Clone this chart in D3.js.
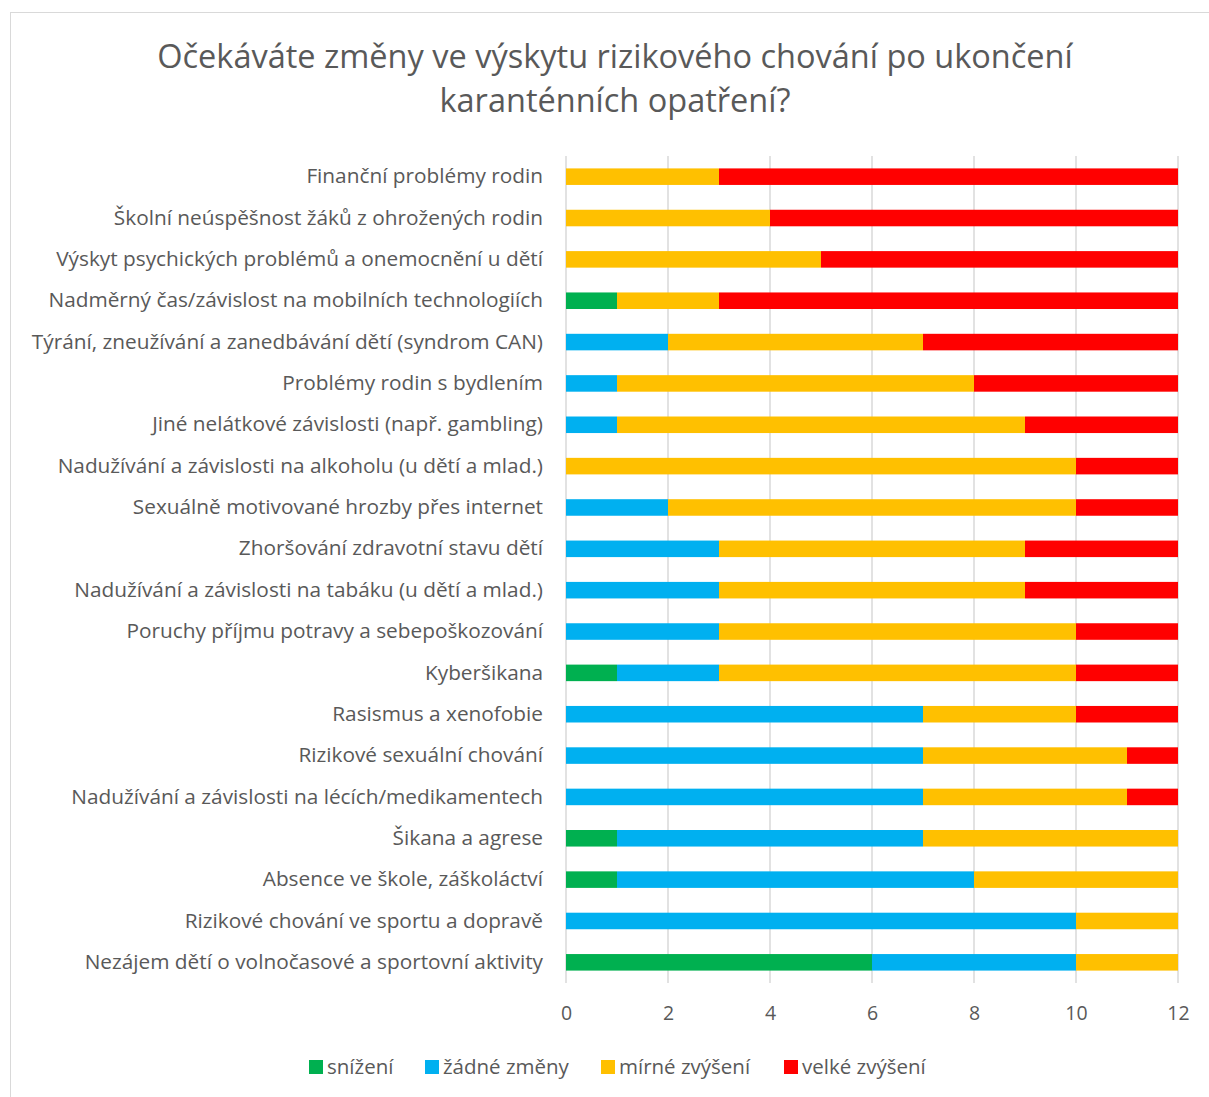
<!DOCTYPE html>
<html>
<head>
<meta charset="utf-8">
<script src="https://cdn.jsdelivr.net/npm/d3@7"></script>
<style>
  body { margin: 0; background: #fff; }
  text { font-family: "Open Sans", "Noto Sans", sans-serif; fill: #595959; }
</style>
</head>
<body>
<div id="container"></div>
<script>
let w = 1209;
let h = 1097;

// data, top to bottom
let categories = [
  "Finanční problémy rodin",
  "Školní neúspěšnost žáků z ohrožených rodin",
  "Výskyt psychických problémů a onemocnění u dětí",
  "Nadměrný čas/závislost na mobilních technologiích",
  "Týrání, zneužívání a zanedbávání dětí (syndrom CAN)",
  "Problémy rodin s bydlením",
  "Jiné nelátkové závislosti (např. gambling)",
  "Nadužívání a závislosti na alkoholu (u dětí a mlad.)",
  "Sexuálně motivované hrozby přes internet",
  "Zhoršování zdravotní stavu dětí",
  "Nadužívání a závislosti na tabáku (u dětí a mlad.)",
  "Poruchy příjmu potravy a sebepoškozování",
  "Kyberšikana",
  "Rasismus a xenofobie",
  "Rizikové sexuální chování",
  "Nadužívání a závislosti na lécích/medikamentech",
  "Šikana a agrese",
  "Absence ve škole, záškoláctví",
  "Rizikové chování ve sportu a dopravě",
  "Nezájem dětí o volnočasové a sportovní aktivity"
];
let snizeni      = [0, 0, 0, 1, 0, 0, 0, 0, 0, 0, 0, 0, 1, 0, 0, 0, 1, 1, 0, 6];
let zadneZmeny   = [0, 0, 0, 0, 2, 1, 1, 0, 2, 3, 3, 3, 2, 7, 7, 7, 6, 7, 10, 4];
let mirneZvyseni = [3, 4, 5, 2, 5, 7, 8, 10, 8, 6, 6, 7, 7, 3, 4, 4, 5, 4, 2, 2];
let velkeZvyseni = [9, 8, 7, 9, 5, 4, 3, 2, 2, 3, 3, 2, 2, 2, 1, 1, 0, 0, 0, 0];
let seriesNames = ["snížení", "žádné změny", "mírné zvýšení", "velké zvýšení"];
let seriesColors = ["#00b050", "#00b0f0", "#ffc000", "#ff0000"];
let xTicks = [0, 2, 4, 6, 8, 10, 12];

let rows = categories.map(function(c, i){
  return {cat: c, s0: snizeni[i], s1: zadneZmeny[i], s2: mirneZvyseni[i], s3: velkeZvyseni[i]};
});
let stack = d3.stack().keys(["s0", "s1", "s2", "s3"])(rows);

let viz = d3.select("#container").append("svg")
    .attr("width", w)
    .attr("height", h);

// chart frame
viz.append("rect")
    .attr("x", 10.5).attr("y", 12.5)
    .attr("width", w).attr("height", h)
    .attr("fill", "none")
    .attr("stroke", "#d9d9d9");

// title
let title = viz.append("text")
    .attr("text-anchor", "middle")
    .attr("font-size", 32.5);
title.append("tspan").attr("x", 615).attr("y", 68).text("Očekáváte změny ve výskytu rizikového chování po ukončení");
title.append("tspan").attr("x", 615).attr("y", 112).text("karanténních opatření?");

let xScale = d3.scaleLinear().domain([0, 12]).range([566, 1178]);
let yScale = d3.scaleBand().domain(categories).range([156, 983])
    .paddingInner(0.6).paddingOuter(0.3);

// gridlines
viz.append("g")
    .selectAll("line").data(xTicks).enter()
    .append("line")
    .attr("x1", d => xScale(d)).attr("x2", d => xScale(d))
    .attr("y1", 156).attr("y2", 983)
    .attr("stroke", "#d9d9d9")
    .attr("stroke-width", 1.5);

// bars
viz.append("g")
    .selectAll("g").data(stack).enter()
    .append("g")
    .attr("fill", (d, i) => seriesColors[i])
    .selectAll("rect").data(d => d).enter()
    .append("rect")
    .attr("x", d => xScale(d[0]))
    .attr("width", d => xScale(d[1]) - xScale(d[0]))
    .attr("y", d => yScale(d.data.cat))
    .attr("height", yScale.bandwidth());

// category labels
let yAxis = viz.append("g")
    .attr("transform", "translate(566,0)")
    .call(d3.axisLeft(yScale).tickSize(0).tickPadding(23));
yAxis.select(".domain").remove();
yAxis.selectAll("text")
    .attr("font-size", 20.8)
    .attr("font-family", null)
    .attr("fill", "#595959");

// x axis labels
let xAxis = viz.append("g")
    .attr("transform", "translate(0,983)")
    .call(d3.axisBottom(xScale).tickValues(xTicks).tickSize(0).tickPadding(23));
xAxis.select(".domain").remove();
xAxis.selectAll("text")
    .attr("font-size", 19.5)
    .attr("font-family", null)
    .attr("fill", "#595959");

// legend
let legendX = [309, 425, 601, 784];
let legend = viz.append("g").selectAll("g").data(seriesNames).enter()
    .append("g")
    .attr("transform", (d, i) => "translate(" + legendX[i] + ",1060)");
legend.append("rect")
    .attr("width", 14).attr("height", 14)
    .attr("fill", (d, i) => seriesColors[i]);
legend.append("text")
    .attr("x", 18).attr("y", 14)
    .attr("font-size", 20.5)
    .text(d => d);
</script>
</body>
</html>
